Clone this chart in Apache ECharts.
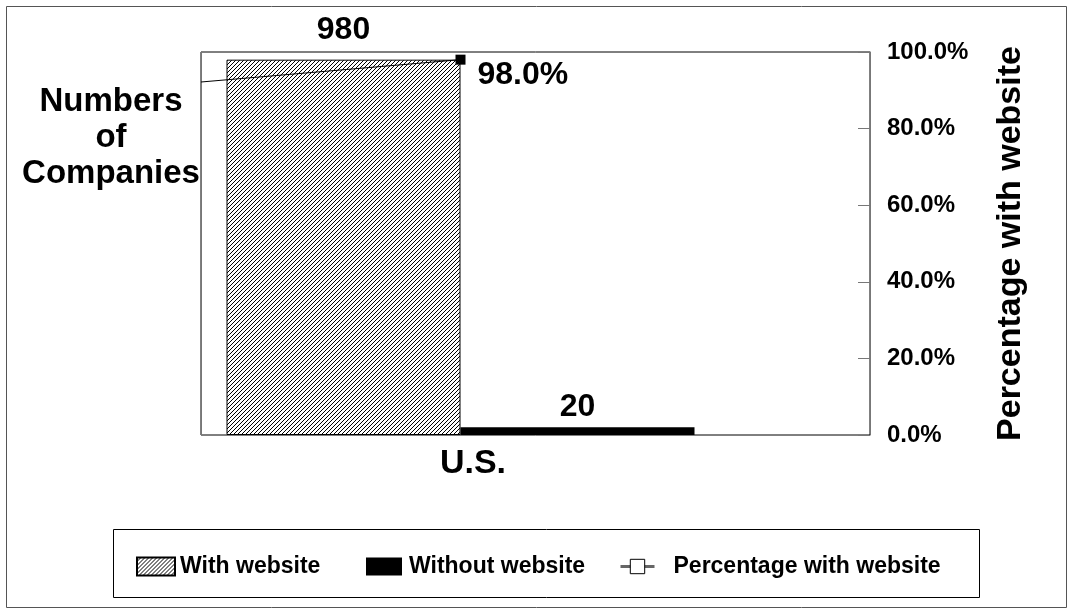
<!DOCTYPE html>
<html>
<head>
<meta charset="utf-8">
<script src="https://cdn.jsdelivr.net/npm/echarts@6/dist/echarts.min.js"></script>
<style>
  html, body { margin: 0; padding: 0; background: #fff; }
  #chart { width: 1073px; height: 614px; }
</style>
</head>
<body>
<div id="chart"></div>
<script>
// data
const categories = ["U.S."]
const withWebsite = [980]
const withoutWebsite = [20]
const percentWithWebsite = [98.0]

const FONT = "'Liberation Sans', Arial, sans-serif"

// diagonal hatch for the "with website" bar
function hatch(){
    let s = 4
    let c = document.createElement("canvas")
    c.width = s
    c.height = s
    let ctx = c.getContext("2d")
    ctx.fillStyle = "#fff"
    ctx.fillRect(0, 0, s, s)
    ctx.strokeStyle = "#000"
    ctx.lineWidth = 1
    ctx.beginPath()
    ctx.moveTo(-1, s + 1); ctx.lineTo(s + 1, -1)
    ctx.moveTo(-1, 1); ctx.lineTo(1, -1)
    ctx.moveTo(s - 1, s + 1); ctx.lineTo(s + 1, s - 1)
    ctx.stroke()
    return c
}
const hatchFill = { image: hatch(), repeat: "repeat" }

function legendAt(left, itemWidth, textPad, item){
    return {
        left: left,
        top: 550,
        itemWidth: itemWidth,
        itemHeight: 18,
        itemGap: 0,
        textStyle: { fontFamily: FONT, fontSize: 23, fontWeight: "bold", color: "#000", padding: [0, 0, 0, textPad] },
        data: [item]
    }
}

let myChart = echarts.init(document.getElementById("chart"))
let option = {
    animation: false,
    textStyle: { fontFamily: FONT, fontWeight: "bold", color: "#000" },
    title: {
        text: "Numbers\nof\nCompanies",
        left: 106,
        top: 79,
        textAlign: "center",
        textStyle: { fontFamily: FONT, fontSize: 33, fontWeight: "bold", lineHeight: 36, color: "#000" }
    },
    graphic: [
        {
            type: "rect",
            shape: { x: 6.5, y: 6.5, width: 1060, height: 601 },
            style: { fill: "none", stroke: "#555", lineWidth: 1 },
            silent: true
        },
        {
            type: "rect",
            shape: { x: 113.5, y: 529.5, width: 866, height: 68 },
            style: { fill: "none", stroke: "#000", lineWidth: 1 },
            silent: true
        }
    ],
    legend: [
        legendAt(131, 38, 0, { name: "With website", icon: "rect" }),
        legendAt(361, 36, 2, { name: "Without website", icon: "rect" }),
        legendAt(614, 34, 14, { name: "Percentage with website", itemStyle: { color: "#fff", borderColor: "#000", borderWidth: 1 }, lineStyle: { color: "#666", width: 3 } })
    ],
    grid: [
        { left: 201, width: 519, top: 52, bottom: 179, show: false },
        { left: 201, right: 203, top: 52, bottom: 179, show: true, borderColor: "#000", borderWidth: 1, backgroundColor: "transparent" }
    ],
    xAxis: [
        {
            type: "category",
            gridIndex: 0,
            data: categories,
            axisLine: { show: false },
            axisTick: { show: false },
            axisLabel: {
                margin: 12,
                fontSize: 34,
                fontWeight: "bold",
                color: "#000",
                padding: [0, 0, 0, 25]
            }
        },
        { type: "category", gridIndex: 1, data: categories, show: false }
    ],
    yAxis: [
        {
            type: "value",
            gridIndex: 0,
            min: 0,
            max: 1000,
            axisLine: { show: true, lineStyle: { color: "#777" } },
            axisTick: { show: false },
            axisLabel: { show: false },
            splitLine: { show: false }
        },
        {
            type: "value",
            gridIndex: 0,
            position: "right",
            offset: 150,
            min: 0,
            max: 100,
            interval: 20,
            axisLine: { show: true, lineStyle: { color: "#777" } },
            axisTick: { show: true, inside: true, length: 12, lineStyle: { color: "#777" } },
            axisLabel: {
                margin: 17,
                fontSize: 24,
                fontWeight: "bold",
                color: "#000",
                formatter: v => v.toFixed(1) + "%"
            },
            splitLine: { show: false },
            name: "Percentage with website",
            nameLocation: "middle",
            nameRotate: 90,
            nameGap: 124,
            nameTextStyle: { fontFamily: FONT, fontSize: 34, fontWeight: "bold", color: "#000" }
        },
        { type: "value", gridIndex: 1, show: false }
    ],
    series: [
        {
            name: "With website",
            type: "bar",
            xAxisIndex: 0,
            yAxisIndex: 0,
            data: withWebsite,
            barWidth: 234,
            barGap: "0%",
            itemStyle: { color: hatchFill, borderColor: "#000", borderWidth: 1 },
            label: { show: true, position: "top", distance: 13, fontSize: 32, fontWeight: "bold", color: "#000" }
        },
        {
            name: "Without website",
            type: "bar",
            xAxisIndex: 0,
            yAxisIndex: 0,
            data: withoutWebsite,
            barWidth: 234,
            barGap: "0%",
            itemStyle: { color: "#000" },
            label: { show: true, position: "top", distance: 4, fontSize: 32, fontWeight: "bold", color: "#000" }
        },
        {
            name: "Percentage with website",
            type: "line",
            xAxisIndex: 0,
            yAxisIndex: 1,
            data: percentWithWebsite,
            symbol: "rect",
            symbolSize: 10,
            itemStyle: { color: "#000" },
            lineStyle: { color: "#000" },
            z: 5,
            label: {
                show: true,
                position: "right",
                distance: 12,
                offset: [0, 16],
                fontSize: 32,
                fontWeight: "bold",
                color: "#000",
                formatter: p => p.value.toFixed(1) + "%"
            },
            markLine: {
                silent: true,
                symbol: "none",
                label: { show: false },
                lineStyle: { color: "#000", width: 1, type: "solid" },
                data: [[{ coord: [0, percentWithWebsite[0]] }, { x: 201, y: 82 }]]
            }
        }
    ]
}
myChart.setOption(option)
</script>
</body>
</html>
